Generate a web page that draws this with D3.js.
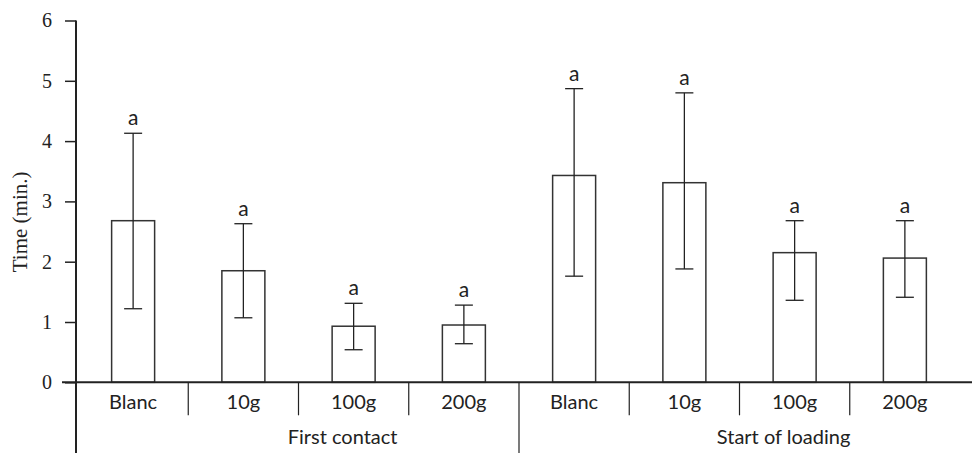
<!DOCTYPE html>
<html>
<head>
<meta charset="utf-8">
<title>Time per treatment</title>
<script src="https://d3js.org/d3.v7.min.js"></script>
<style>
    body { margin: 0; background: #fff; }
    svg { display: block; }
</style>
</head>
<body>
<div id="cont"></div>
<script>
    // data
    var groups = ['First contact', 'Start of loading'];
    var doses = ['Blanc', '10g', '100g', '200g'];
    var means = [2.68, 1.85, 0.93, 0.95, 3.43, 3.31, 2.15, 2.06];
    var errLow = [1.22, 1.07, 0.54, 0.64, 1.76, 1.88, 1.36, 1.41];
    var errHigh = [4.13, 2.63, 1.31, 1.28, 4.87, 4.80, 2.68, 2.68];
    var letters = ['a', 'a', 'a', 'a', 'a', 'a', 'a', 'a'];
    var yTicks = [0, 1, 2, 3, 4, 5, 6];

    (function() {
        var W = 972, H = 453,
            axisX = 76,
            x0 = 78, x1 = 960,
            yTop = 20.5, yZero = 382.3,
            serif = '"Liberation Serif", "DejaVu Serif", serif',
            sans = 'Lato, "Open Sans", sans-serif',
            ink = '#222';

        var rows = [];
        groups.forEach(function(g, gi) {
            doses.forEach(function(d, di) {
                var i = gi * doses.length + di;
                rows.push({ key: g + '|' + d, group: g, dose: d, mean: means[i],
                    lo: errLow[i], hi: errHigh[i], letter: letters[i] });
            });
        });

        var x = d3.scaleBand()
            .domain(rows.map(function(d) { return d.key; }))
            .range([x0, x1]);
        var y = d3.scaleLinear().domain([0, 6]).range([yZero, yTop]);
        var barW = x.bandwidth() * 0.39;
        var capW = 18;

        var svg = d3.select('#cont').append('svg')
            .attr('width', W).attr('height', H);

        // y axis
        var yAxis = d3.axisLeft(y).tickValues(yTicks).tickSize(11).tickPadding(13)
            .tickFormat(d3.format('d'));
        var gy = svg.append('g')
            .attr('transform', 'translate(' + axisX + ',0)')
            .call(yAxis);
        gy.select('.domain').remove();
        gy.selectAll('line').attr('stroke', ink).attr('stroke-width', 1.5);
        gy.selectAll('text')
            .attr('fill', ink)
            .attr('font-family', serif)
            .attr('font-size', 20);
        gy.attr('font-size', 20).attr('font-family', serif);

        svg.append('line')
            .attr('x1', axisX).attr('x2', axisX)
            .attr('y1', y(6)).attr('y2', H)
            .attr('stroke', ink).attr('stroke-width', 2);

        svg.append('text')
            .attr('transform', 'translate(27,' + y(2.66) + ') rotate(-90)')
            .attr('text-anchor', 'middle')
            .attr('fill', ink)
            .attr('font-family', serif)
            .attr('font-size', 21)
            .text('Time (min.)');

        // bars
        svg.selectAll('rect.bar')
            .data(rows)
            .enter().append('rect')
            .attr('class', 'bar')
            .attr('x', function(d) { return x(d.key) + (x.bandwidth() - barW) / 2; })
            .attr('width', barW)
            .attr('y', function(d) { return y(d.mean); })
            .attr('height', function(d) { return y(0) - y(d.mean); })
            .attr('fill', '#fff')
            .attr('stroke', '#333')
            .attr('stroke-width', 1.5);

        // error bars
        var eb = svg.selectAll('g.err')
            .data(rows)
            .enter().append('g')
            .attr('class', 'err')
            .attr('transform', function(d) {
                return 'translate(' + (x(d.key) + x.bandwidth() / 2) + ',0)';
            });
        eb.append('line')
            .attr('y1', function(d) { return y(d.lo); })
            .attr('y2', function(d) { return y(d.hi); });
        eb.append('line')
            .attr('x1', -capW / 2).attr('x2', capW / 2)
            .attr('y1', function(d) { return y(d.hi); })
            .attr('y2', function(d) { return y(d.hi); });
        eb.append('line')
            .attr('x1', -capW / 2).attr('x2', capW / 2)
            .attr('y1', function(d) { return y(d.lo); })
            .attr('y2', function(d) { return y(d.lo); });
        eb.selectAll('line').attr('stroke', ink).attr('stroke-width', 1.3);
        eb.append('text')
            .attr('y', function(d) { return y(d.hi) - 8; })
            .attr('text-anchor', 'middle')
            .attr('fill', ink)
            .attr('font-family', sans)
            .attr('font-size', 21)
            .text(function(d) { return d.letter; });

        // x axis line
        svg.append('line')
            .attr('x1', 62).attr('x2', W)
            .attr('y1', y(0)).attr('y2', y(0))
            .attr('stroke', ink).attr('stroke-width', 2);

        // separators between dose cells, longer one between groups
        var bounds = rows.slice(1).map(function(d, i) {
            return { x: x(d.key), groupEdge: (i + 1) % doses.length === 0 };
        });
        svg.selectAll('line.sep')
            .data(bounds)
            .enter().append('line')
            .attr('class', 'sep')
            .attr('x1', function(d) { return d.x; })
            .attr('x2', function(d) { return d.x; })
            .attr('y1', y(0))
            .attr('y2', function(d) { return d.groupEdge ? H : y(0) + 33; })
            .attr('stroke', ink)
            .attr('stroke-width', 1.2);

        // dose labels
        svg.selectAll('text.dose')
            .data(rows)
            .enter().append('text')
            .attr('class', 'dose')
            .attr('x', function(d) { return x(d.key) + x.bandwidth() / 2; })
            .attr('y', y(0) + 27)
            .attr('text-anchor', 'middle')
            .attr('fill', ink)
            .attr('font-family', sans)
            .attr('font-size', 20)
            .text(function(d) { return d.dose; });

        // group labels
        svg.selectAll('text.group')
            .data(groups)
            .enter().append('text')
            .attr('class', 'group')
            .attr('x', function(g) {
                var first = x(g + '|' + doses[0]);
                var last = x(g + '|' + doses[doses.length - 1]) + x.bandwidth();
                return (first + last) / 2 + (last - first) * 0.1;
            })
            .attr('y', y(0) + 62)
            .attr('text-anchor', 'middle')
            .attr('fill', ink)
            .attr('font-family', sans)
            .attr('font-size', 20)
            .text(function(g) { return g; });
    })();
</script>
</body>
</html>
